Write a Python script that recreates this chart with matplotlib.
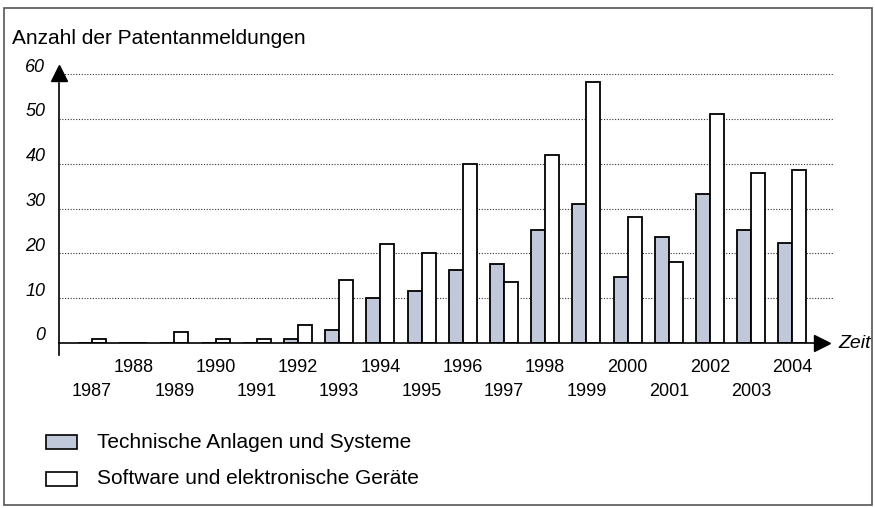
import matplotlib.pyplot as plt
import matplotlib.transforms as mtransforms
from matplotlib.patches import Rectangle
import numpy as np

plt.rcParams['font.family'] = ['Liberation Sans', 'DejaVu Sans']

years = list(range(1987, 2005))
technik = [0, 0, 0, 0, 0, 1, 3, 10, 11.5, 16.3, 17.7, 25.2, 31, 14.8, 23.7, 33.3, 25.2, 22.3]
software = [1, 0, 2.5, 1, 1, 4, 14, 22, 20, 40, 13.5, 42, 58.2, 28.2, 18, 51, 38, 38.5]
yticks = [0, 10, 20, 30, 40, 50, 60]
legend_labels = ["Technische Anlagen und Systeme", "Software und elektronische Geräte"]

W, H = 875, 508
fig = plt.figure(figsize=(W / 100, H / 100), dpi=100)

# Rahmen um die ganze Grafik
fig.patches.append(Rectangle((4 / W, 3 / H), (W - 7) / W, (H - 11) / H, transform=fig.transFigure,
                             fill=False, edgecolor='#555555', linewidth=1.2))

# Achse in Pixeln: x von 59 bis 833, Null bei y=343, 60 bei y=74
ax = fig.add_axes([59 / W, (H - 343) / H, (833 - 59) / W, (343 - 74) / H])
ax.set_xlim((59 - 92) / 41.2, (833 - 92) / 41.2)
ax.set_ylim(0, 60)
ax.axis('off')

x = np.arange(len(years))
w = 0.34
grau = '#c0c8da'

xl = ax.get_xlim()
for v in yticks[1:]:
    ax.plot([xl[0], xl[1]], [v, v], linestyle=(0, (1, 1.5)),
            color='#333333', linewidth=0.8, zorder=1)

ax.bar(x - w / 2, technik, w, color=grau, edgecolor='black', linewidth=1.3, zorder=3)
ax.bar(x + w / 2, software, w, color='white', edgecolor='black', linewidth=1.3, zorder=3)

# Achsen mit Pfeilen
ax.plot([xl[0], xl[0]], [-2.6, 58], color='black', linewidth=1.2, clip_on=False, zorder=4)
ax.plot([xl[0], 17.8], [0, 0], color='black', linewidth=1.2, clip_on=False, zorder=4)
ax.plot([xl[0]], [60.3], marker='^', markersize=11, color='black', clip_on=False, zorder=5)
ax.plot([17.72], [0], marker='>', markersize=11, color='black', clip_on=False, zorder=5)
ax.text(18.12, 0, "Zeit", fontsize=14, style='italic', ha='left', va='center')

# y-Beschriftung etwas oberhalb der Gitterlinien
up = mtransforms.offset_copy(ax.transData, fig=fig, x=0, y=7, units='dots')
for v in yticks:
    ax.text(xl[0] - 0.33, v, str(v), transform=up, fontsize=13, style='italic',
            ha='right', va='center')

fig.text(12 / W, 1 - 38 / H, "Anzahl der Patentanmeldungen", fontsize=15, ha='left', va='center')

# Jahreszahlen in zwei Reihen
for i, yr in enumerate(years):
    yy = 367 if yr % 2 == 0 else 392
    ax.text(i, 1 - yy / H, str(yr), transform=mtransforms.blended_transform_factory(ax.transData, fig.transFigure),
            fontsize=13, ha='center', va='center')

# Legende
for k, (lab, fc) in enumerate(zip(legend_labels, [grau, 'white'])):
    yc = 442 + 37 * k
    fig.patches.append(Rectangle((46 / W, (H - yc - 7) / H), 31 / W, 14 / H, transform=fig.transFigure,
                                 facecolor=fc, edgecolor='black', linewidth=1.2))
    fig.text(97 / W, (H - yc) / H, lab, fontsize=15, ha='left', va='center')

fig.savefig('out.png', dpi=100)
